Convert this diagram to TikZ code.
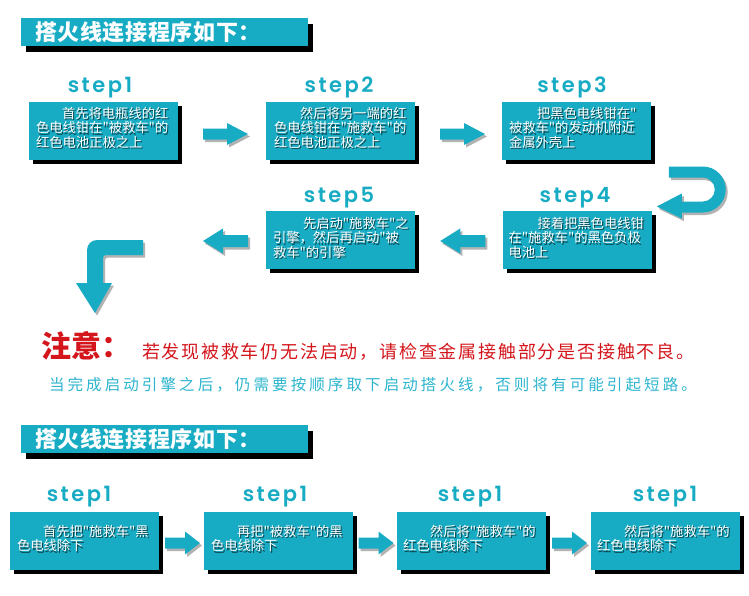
\documentclass[tikz,border=0pt]{standalone}
\usepackage{fontspec}
\usetikzlibrary{calc,shadows}
\newfontfamily\cjk{Noto Sans CJK SC}
\newfontfamily\stepfont{Poppins SemiBold}[LetterSpace=12]
\newfontfamily\cjkred{Noto Sans CJK SC}[LetterSpace=10]
\newfontfamily\cjkcyan{Noto Sans CJK SC}[LetterSpace=20]
\newfontfamily\cjkhead{Noto Sans CJK SC}[LetterSpace=3]
\definecolor{tealbox}{RGB}{24,172,196}
\definecolor{warnred}{RGB}{212,22,28}
\definecolor{tipcyan}{RGB}{44,181,206}
\newcommand\boxlines[3]{%
  \coordinate (#1o) at #2;
  \node[txtshadow] (#1s) at ([shift={(1.2,1.3)}]#1o) {#3};
  \node[txtwhite] (#1) at (#1o) {#3};}
\tikzset{
  every node/.style={inner sep=0pt, outer sep=0pt},
  hdrbar/.style={fill=tealbox, minimum width=287pt, minimum height=28pt, anchor=north west,
    drop shadow={shadow xshift=4.5pt, shadow yshift=-5.5pt, fill=black, opacity=1}},
  hdrtext/.style={font=\cjkhead\bfseries\fontsize{22}{24}\selectfont, text=white, anchor=west},
  stepbox/.style={fill=tealbox, minimum width=149pt, minimum height=58pt,
    drop shadow={shadow xshift=4pt, shadow yshift=-4pt, fill=black, opacity=1}},
  steplabel/.style={font=\stepfont\fontsize{21}{22}\selectfont, text=tealbox, anchor=base},
  txtwhite/.style={font=\cjk\fontsize{13.3}{14.5}\selectfont, text=white, align=left, anchor=north west},
  txtshadow/.style={txtwhite, text=black, opacity=0.6},
  arrowshade/.style={fill=black, opacity=0.3},
  arrowfill/.style={fill=tealbox},
  bigR/.pic={
    \fill[arrowshade, shift={(2,2.5)}] (-22.5,-5.5) -- (1.5,-5.5) -- (1.5,-11) -- (22.5,0) -- (1.5,11) -- (1.5,5.5) -- (-22.5,5.5) -- cycle;
    \fill[arrowfill] (-22.5,-5.5) -- (1.5,-5.5) -- (1.5,-11) -- (22.5,0) -- (1.5,11) -- (1.5,5.5) -- (-22.5,5.5) -- cycle;
  },
  bigL/.pic={
    \fill[arrowshade, shift={(2,2.5)}] (22.5,-6) -- (-2.5,-6) -- (-2.5,-12.5) -- (-22.5,0) -- (-2.5,12.5) -- (-2.5,6) -- (22.5,6) -- cycle;
    \fill[arrowfill] (22.5,-6) -- (-2.5,-6) -- (-2.5,-12.5) -- (-22.5,0) -- (-2.5,12.5) -- (-2.5,6) -- (22.5,6) -- cycle;
  },
  smallR/.pic={
    \fill[arrowshade, shift={(2,2.5)}] (-17.5,-5.5) -- (2.5,-5.5) -- (2.5,-11.5) -- (17.5,0) -- (2.5,11.5) -- (2.5,5.5) -- (-17.5,5.5) -- cycle;
    \fill[arrowfill] (-17.5,-5.5) -- (2.5,-5.5) -- (2.5,-11.5) -- (17.5,0) -- (2.5,11.5) -- (2.5,5.5) -- (-17.5,5.5) -- cycle;
  },
  uturn/.pic={
    \fill[arrowshade, shift={(2,2.5)}] (-34,-23) -- (0,-23) arc[start angle=-90, end angle=90, radius=23] -- (-21,23) -- (-21,29) -- (-46,17) -- (-21,4) -- (-21,12) -- (0,12) arc[start angle=90, end angle=-90, radius=12] -- (-34,-12) -- cycle;
    \fill[arrowfill] (-34,-23) -- (0,-23) arc[start angle=-90, end angle=90, radius=23] -- (-21,23) -- (-21,29) -- (-46,17) -- (-21,4) -- (-21,12) -- (0,12) arc[start angle=90, end angle=-90, radius=12] -- (-34,-12) -- cycle;
  },
  lturn/.pic={
    \fill[arrowshade, shift={(2,2.5)}] (48,-43) -- (2,-43) arc[start angle=-90, end angle=-180, radius=10] -- (-8,0) -- (-19,0) -- (0,30) -- (17,0) -- (8,0) -- (8,-25) arc[start angle=180, end angle=270, radius=3] -- (48,-28) -- cycle;
    \fill[arrowfill] (48,-43) -- (2,-43) arc[start angle=-90, end angle=-180, radius=10] -- (-8,0) -- (-19,0) -- (0,30) -- (17,0) -- (8,0) -- (8,-25) arc[start angle=180, end angle=270, radius=3] -- (48,-28) -- cycle;
  }
}
\begin{document}
\begin{tikzpicture}[x=1pt,y=-1pt]
\useasboundingbox (0,0) rectangle (749,595);
\fill[white] (0,0) rectangle (749,595);

% header 1
\node[hdrbar] (h1) at (21,18) {};
\node[hdrtext] (h1t) at (35,32) {搭火线连接程序如下：};

% row 1 boxes
\node[stepbox] (b1) at (103.5,131) {};
\node[stepbox] (b2) at (340.5,131) {};
\node[stepbox] (b3) at (576.5,131) {};
% row 2 boxes
\node[stepbox] (b4) at (577,240) {};
\node[stepbox] (b5) at (340.5,240) {};

\node[steplabel] (s1) at (100,92) {step1};
\node[steplabel] (s2) at (339,92) {step2};
\node[steplabel] (s3) at (572,92) {step3};
\node[steplabel] (s4) at (575,202) {step4};
\node[steplabel] (s5) at (339,202) {step5};

\boxlines{b1t}{($(b1.north west)+(7,5)$)}{\hspace*{26pt}首先将电瓶线的红\\色电线钳在"被救车"的\\红色电池正极之上}
\boxlines{b2t}{($(b2.north west)+(8,5)$)}{\hspace*{26pt}然后将另一端的红\\色电线钳在"施救车"的\\红色电池正极之上}
\boxlines{b3t}{($(b3.north west)+(7,5)$)}{\hspace*{28pt}把黑色电线钳在"\\被救车"的发动机附近\\金属外壳上}
\boxlines{b4t}{($(b4.north west)+(6,6)$)}{\hspace*{29pt}接着把黑色电线钳\\在"施救车"的黑色负极\\电池上}
\boxlines{b5t}{($(b5.north west)+(7,6)$)}{\hspace*{30pt}先启动"施救车"之\\引擎，然后再启动"被\\救车"的引擎}

% arrows row 1 / 2
\pic at ($(b1.east)!0.5!(b2.west)+(3.5,3)$) {bigR};
\pic at ($(b2.east)!0.5!(b3.west)+(4,3)$) {bigR};
\coordinate (uc) at ($(b3.south east)!0.5!(b4.north east)+(51.5,4)$);
\pic at (uc) {uturn};
\pic at ($(b5.east)!0.5!(b4.west)+(4,1)$) {bigL};
\pic at ($(b5.west)+(-40.5,1)$) {bigL};
\coordinate (lc) at ($(b5.west)+(-171,43)$);
\pic at (lc) {lturn};

% notice
\node[font=\cjk\bfseries\fontsize{30}{32}\selectfont, text=warnred, anchor=west] (warn) at (41,346) {注意：};
\node[font=\cjkred\fontsize{18}{19}\selectfont, text=warnred, anchor=west] (warnt) at (142,352) {若发现被救车仍无法启动，请检查金属接触部分是否接触不良。};
\node[font=\cjkcyan\fontsize{15.5}{17}\selectfont, text=tipcyan, anchor=west] (tip) at (49,385) {当完成启动引擎之后，仍需要按顺序取下启动搭火线，否则将有可能引起短路。};

% header 2
\node[hdrbar] (h2) at (21,425) {};
\node[hdrtext] (h2t) at (35,439) {搭火线连接程序如下：};

% bottom row
\node[stepbox] (c1) at (84.5,541) {};
\node[stepbox] (c2) at (278.5,541) {};
\node[stepbox] (c3) at (471.5,541) {};
\node[stepbox] (c4) at (665.5,541) {};

\node[steplabel] (t1) at (79,501) {step1};
\node[steplabel] (t2) at (275,501) {step1};
\node[steplabel] (t3) at (470,501) {step1};
\node[steplabel] (t4) at (665,501) {step1};

\boxlines{c1t}{($(c1.north west)+(7,13)$)}{\hspace*{26pt}首先把"施救车"黑\\色电线除下}
\boxlines{c2t}{($(c2.north west)+(7,13)$)}{\hspace*{26pt}再把"被救车"的黑\\色电线除下}
\boxlines{c3t}{($(c3.north west)+(6,13)$)}{\hspace*{27pt}然后将"施救车"的\\红色电线除下}
\boxlines{c4t}{($(c4.north west)+(6,13)$)}{\hspace*{27pt}然后将"施救车"的\\红色电线除下}

\pic at ($(c1.east)!0.5!(c2.west)+(1,2)$) {smallR};
\pic at ($(c2.east)!0.5!(c3.west)+(1,2)$) {smallR};
\pic at ($(c3.east)!0.5!(c4.west)+(1,2)$) {smallR};
\end{tikzpicture}
\end{document}
